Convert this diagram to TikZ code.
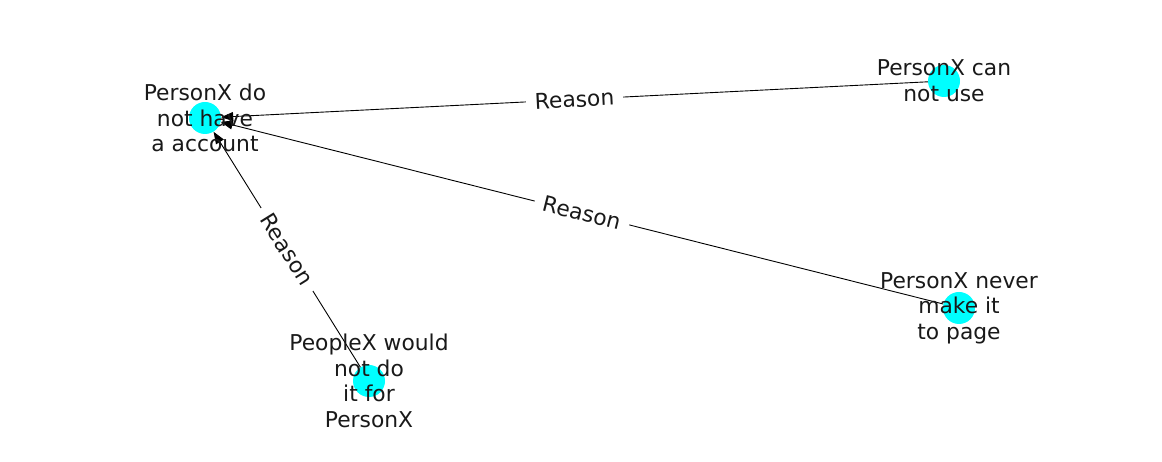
\documentclass[tikz,border=0pt]{standalone}
\usepackage{fontspec}
\setmainfont{DejaVu Sans}
\usetikzlibrary{arrows.meta}
\definecolor{nodecyan}{RGB}{0,255,255}

\begin{document}
\begin{tikzpicture}[x=1pt, y=1pt,
    vertex/.style={circle, fill=nodecyan, inner sep=0pt, minimum size=32pt},
    caption/.style={align=center, text=black!90, font=\fontsize{21.8}{25.6}\selectfont},
    rel/.style={-{Triangle[length=12pt, width=9pt]}, line width=0.9pt},
    tag/.style={sloped, fill=white, inner xsep=9pt, inner ysep=2pt, text=black!90, font=\fontsize{21.8}{25.6}\selectfont}]
      \useasboundingbox (0,0) rectangle (1162,462);

      \node[vertex] (1) at (205,344) {};
      \node[vertex] (2) at (944,381) {};
      \node[vertex] (3) at (959,154) {};
      \node[vertex] (4) at (369,81) {};

      \draw[rel] (2) -- node[tag] {Reason} (1);
      \draw[rel] (3) -- node[tag] {Reason} (1);
      \draw[rel] (4) -- node[tag] {Reason} (1);

      \node[caption] (t1) at (1) {PersonX do\\not have\\a account};
      \node[caption] (t2) at (2) {PersonX can\\not use};
      \node[caption] (t3) at (3) {PersonX never\\make it\\to page};
      \node[caption] (t4) at (4) {PeopleX would\\not do\\it for\\PersonX};
    \end{tikzpicture}
\end{document}
